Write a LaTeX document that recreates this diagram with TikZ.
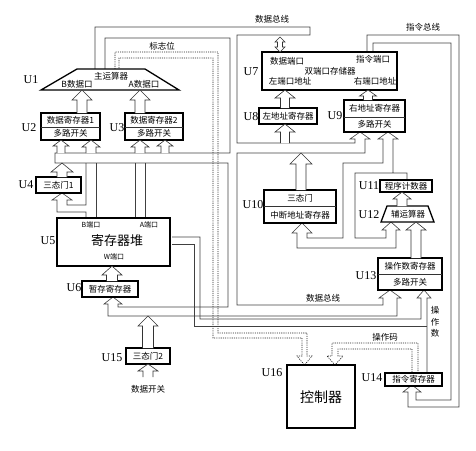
\documentclass[tikz,border=0pt]{standalone}
\usepackage{fontspec}
\setmainfont{Liberation Serif}
\newfontfamily\cjk{Noto Sans CJK SC}
\tikzset{
  wire/.style={line width=0.6pt, draw=black!75, line join=miter},
  dwire/.style={line width=0.65pt, draw=black!85, dash pattern=on 1.1pt off 1.1pt},
  box/.style={draw=black, line width=1.3pt, fill=white, inner sep=0pt, outer sep=0pt},
  divl/.style={line width=0.5pt, draw=black!80},
  harr/.style={line width=0.6pt, draw=black!80, fill=white, line join=miter},
  cn/.style={font=\cjk\fontsize{8.5}{9}\selectfont, inner sep=0pt},
  cns/.style={font=\cjk\fontsize{7}{8}\selectfont, inner sep=0pt},
  cnb/.style={font=\cjk\fontsize{13}{14}\selectfont, inner sep=0pt},
  ul/.style={font=\fontsize{12}{12}\selectfont, inner sep=0pt},
}
\newcommand{\HollowUp}[6]{%
  \draw[harr] ({#1-#4},{#3}) -- ({#1-#4},{#2+#6}) -- ({#1-#5},{#2+#6}) -- ({#1},{#2}) -- ({#1+#5},{#2+#6}) -- ({#1+#4},{#2+#6}) -- ({#1+#4},{#3});}
\begin{document}
\begin{tikzpicture}[x=1pt,y=-1pt]
\useasboundingbox (0,0) rectangle (476,450);

% ---------- data bus outline ----------
\draw[wire] (105,69)--(105,38)--(230,38)--(230,153)--(55,153)--(55,163)--(228,163)--(228,307)--(118,307)--(118,304)--(122,304)--(113,297)--(104,304)--(108,304)--(108,316)--(397,316)--(397,298)--(401,298)--(390,290)--(379,298)--(383,298)--(383,305)--(237,305)--(237,153)--(365,153)--(365,139)--(370,139)--(360,132)--(350,139)--(355,139)--(355,143)--(237,143)--(237,35)--(310,35)--(310,27)--(95,27)--(95,69);

% ---------- flag bits (dotted) ----------
\draw[dwire] (115,69)--(115,52)--(218,52)--(218,333)--(307,333)--(307,356)--(312,356)--(304.5,365)--(297,356)--(302,356)--(302,338)--(213,338)--(213,58)--(119,58)--(119,69);

% ---------- opcode (dotted) ----------
\draw[dwire] (418,373)--(418,343)--(332,343)--(332,356)--(327,356)--(335,365)--(343,356)--(338,356)--(338,349)--(412,349)--(412,373);

% ---------- instruction bus ----------
\draw[wire] (367,52)--(367,35)--(459,35)--(459,407)--(408,407)--(408,392)--(403,392)--(412,385)--(421,392)--(416,392)--(416,400)--(451,400)--(451,43)--(373,43)--(373,52);

% ---------- PC loop ----------
\draw[wire] (407,180)--(407,173)--(355,173)--(355,238)--(386,238)--(386,230)--(382,230)--(391,222)--(400,230)--(396,230)--(396,248)--(297,248)--(297,233)--(292,233)--(302,223)--(312,233)--(307,233)--(307,238)--(343,238)--(343,163)--(383,163)--(383,139)--(378,139)--(388,132)--(398,139)--(393,139)--(393,173);

% ---------- register file output to U13 ----------
\draw[wire] (172,237)--(200,237)--(200,319)--(421,319)--(421,298)--(417,298)--(424,290)--(431,298)--(427,298)--(427,373);
\draw[wire] (172,244)--(194,244)--(194,326)--(427,326);

% ---------- B / A ports ----------
\draw[wire] (86,218)--(86,212)--(57,212)--(57,200)--(52,200)--(62,193)--(72,200)--(67,200)--(67,205)--(86,205)--(86,163);
\draw[wire] (96,218)--(96,163);
\draw[wire] (135,218)--(135,163);
\draw[wire] (145,218)--(145,163);

% ---------- blocks ----------
\draw[box] (77,69)--(145,69)--(179,90)--(41,90)--cycle;
\node[box, minimum width=59pt, minimum height=27pt] (U2) at (70.5,126.5) {};
\node[box, minimum width=58pt, minimum height=27pt] (U3) at (154,126.5) {};
\node[box, minimum width=45pt, minimum height=16pt] (U4) at (58.5,185) {};
\node[box, minimum width=113pt, minimum height=48pt] (U5) at (113.5,242) {};
\node[box, minimum width=56pt, minimum height=16pt] (U6) at (110,289) {};
\node[box, minimum width=44pt, minimum height=16pt] (U15) at (148,356) {};
\node[box, minimum width=135pt, minimum height=38pt] (U7) at (329.5,71) {};
\node[box, minimum width=58pt, minimum height=16pt] (U8) at (288,116) {};
\node[box, minimum width=61pt, minimum height=32pt] (U9) at (374.5,116) {};
\node[box, minimum width=72pt, minimum height=33pt] (U10) at (300,206.5) {};
\node[box, minimum width=52pt, minimum height=12pt] (U11) at (406,186) {};
\draw[box] (387,206)--(428,206)--(434,222)--(381,222)--cycle;
\node[box, minimum width=64pt, minimum height=32pt] (U13) at (410,274) {};
\node[box, minimum width=57pt, minimum height=13pt] (U14) at (413.5,379.5) {};
\node[box, minimum width=68pt, minimum height=63pt] (U16) at (321,396.5) {};

\draw[divl] (U2.west |- 0,127) -- (U2.east |- 0,127);
\draw[divl] (U3.west |- 0,127) -- (U3.east |- 0,127);
\draw[divl] (U9.west |- 0,117) -- (U9.east |- 0,117);
\draw[divl] (U10.west |- 0,206) -- (U10.east |- 0,206);
\draw[divl] (U13.west |- 0,274) -- (U13.east |- 0,274);

% ---------- hollow arrows ----------
\HollowUp{61}{140}{153}{4}{8}{6}
\HollowUp{91}{140}{153}{5}{9}{7}
\HollowUp{140}{140}{153}{5}{9}{7}
\HollowUp{165}{140}{153}{4}{8}{6}
\HollowUp{82}{90}{113}{5}{10}{10}
\HollowUp{140}{90}{113}{5}{10}{10}
\HollowUp{62}{163}{177}{5}{11}{9}
\HollowUp{112}{266}{281}{5.5}{10}{9}
\HollowUp{148}{316}{348}{5.5}{10}{10}
\HollowUp{148}{364}{377}{5}{10}{7}
\HollowUp{285}{90}{108}{4.5}{10}{8}
\HollowUp{285}{124}{143}{4.5}{10}{8}
\HollowUp{368}{90}{100}{4.5}{8.5}{6}
\HollowUp{301}{153}{190}{5}{11}{11}
\HollowUp{402}{192}{206}{5}{9}{7}
\HollowUp{416}{222}{258}{5}{10}{8}
% double arrow at data port
\draw[harr] (277.5,42)--(275,42)--(280,37)--(285,42)--(282.5,42)--(282.5,47)--(285,47)--(280,52)--(275,47)--(277.5,47)--cycle;

% ---------- texts ----------
\node[cn] (t1a) at (111,76) {主运算器};
\node[cn] (t1b) at (77,84.5) {B数据口};
\node[cn] (t1c) at (144,84.5) {A数据口};
\node[cn] (t2a) at (70.5,120) {数据寄存器1};
\node[cn] (t2b) at (70.5,133.5) {多路开关};
\node[cn] (t3a) at (154,120) {数据寄存器2};
\node[cn] (t3b) at (154,133.5) {多路开关};
\node[cn] (t4) at (58.5,185) {三态门1};
\node[cns] (t5a) at (91,225) {B端口};
\node[cns] (t5b) at (149,225) {A端口};
\node[cnb] (t5c) at (117,241) {寄存器堆};
\node[cns] (t5d) at (114,257) {W端口};
\node[cn] (t6) at (110,289) {暂存寄存器};
\node[cn] (t15) at (148,356) {三态门2};
\node[cn] (tsw) at (148,389) {数据开关};
\node[cn] (tflag) at (162,46) {标志位};
\node[cn] (tdb1) at (272,19) {数据总线};
\node[cn] (tib) at (423,27) {指令总线};
\node[cn] (t7a) at (287,61) {数据端口};
\node[cn] (t7b) at (373,59) {指令端口};
\node[cn] (t7c) at (330,71) {双端口存储器};
\node[cn] (t7d) at (290,81) {左端口地址};
\node[cn] (t7e) at (375,81) {右端口地址};
\node[cn] (t8) at (288,116) {左地址寄存器};
\node[cn] (t9a) at (374.5,108.5) {右地址寄存器};
\node[cn] (t9b) at (374.5,124.5) {多路开关};
\node[cn] (t10a) at (300,198) {三态门};
\node[cn] (t10b) at (300,215) {中断地址寄存器};
\node[cn] (t11) at (406,186) {程序计数器};
\node[cn] (t12) at (408,214.5) {辅运算器};
\node[cn] (t13a) at (410,266) {操作数寄存器};
\node[cn] (t13b) at (410,282.5) {多路开关};
\node[cn] (t14) at (413.5,379.5) {指令寄存器};
\node[font=\cjk\fontsize{14}{15}\selectfont, inner sep=0pt] (t16) at (321,397) {控制器};
\node[cn] (tdb2) at (323,298) {数据总线};
\node[cn] (top) at (385,337) {操作码};
\node[cn, align=center, font=\cjk\fontsize{8.5}{11.5}\selectfont] (tod) at (435,322) {操\\作\\数};

% ---------- unit labels ----------
\node[ul] (l1) at (31,80) {U1};
\node[ul] (l2) at (29,128) {U2};
\node[ul] (l3) at (117,128) {U3};
\node[ul] (l4) at (26,185) {U4};
\node[ul] (l5) at (48,241) {U5};
\node[ul] (l6) at (74,288) {U6};
\node[ul] (l7) at (251,72) {U7};
\node[ul] (l8) at (251,117) {U8};
\node[ul] (l9) at (335,116) {U9};
\node[ul] (l10) at (253,205) {U10};
\node[ul] (l11) at (369,186) {U11};
\node[ul] (l12) at (369,215) {U12};
\node[ul] (l13) at (366,276) {U13};
\node[ul] (l14) at (372,378) {U14};
\node[ul] (l15) at (112,358) {U15};
\node[ul] (l16) at (272,373) {U16};
\end{tikzpicture}
\end{document}
